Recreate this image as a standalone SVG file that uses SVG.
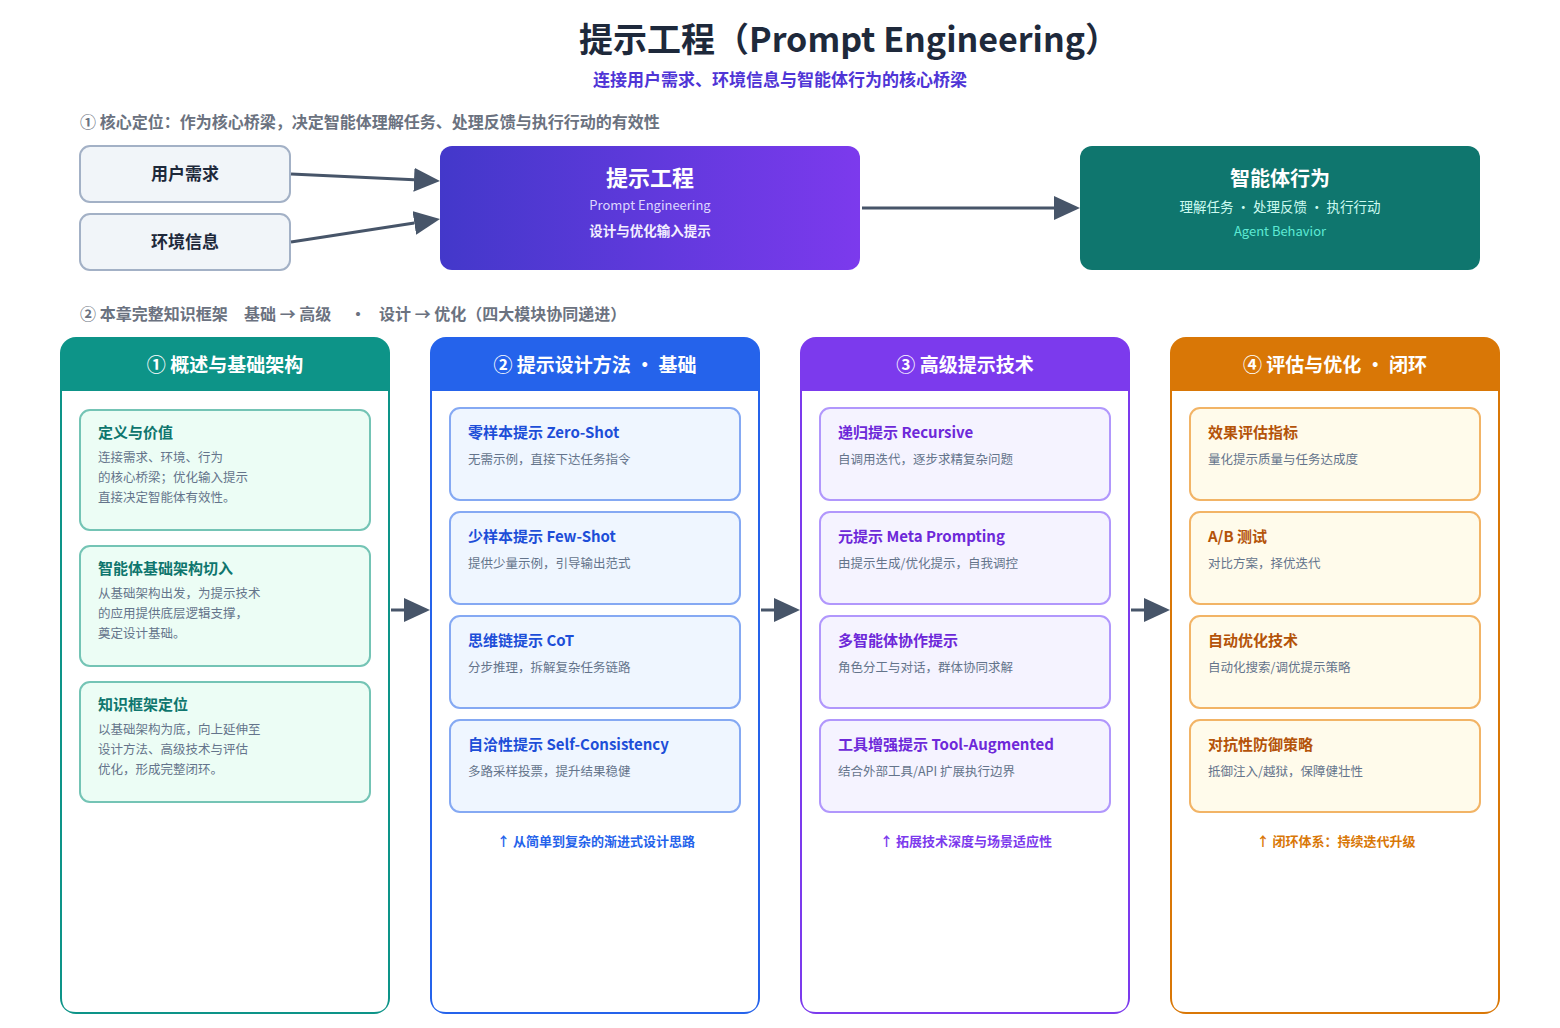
<svg xmlns="http://www.w3.org/2000/svg" width="1560" height="1028" viewBox="0 0 1560 1028">
<defs>
  <linearGradient id="gPE" x1="0" y1="0" x2="1" y2="0">
    <stop offset="0" stop-color="#4338ca"/>
    <stop offset="1" stop-color="#7c3aed"/>
  </linearGradient>
  <marker id="ah" viewBox="0 0 26 24" refX="0" refY="12" markerWidth="26" markerHeight="24" markerUnits="userSpaceOnUse" orient="auto">
    <path d="M0,0 L26,12 L0,24 Z" fill="#475569"/>
  </marker>
  <style>
    text { font-family: "Noto Sans CJK SC", "Noto Sans", sans-serif; }
    .title { font-size: 34px; font-weight: 700; fill: #1e293b; }
    .sub { font-size: 17px; font-weight: 700; fill: #4f35d6; }
    .sec { font-size: 16px; font-weight: 700; fill: #6b7280; }
    .inbox { fill: #f1f5f9; stroke: #a3b1c6; stroke-width: 2; }
    .inlbl { font-size: 17px; font-weight: 700; fill: #1e293b; text-anchor: middle; }
    .wh { fill: #ffffff; text-anchor: middle; }
    .conn { stroke: #475569; stroke-width: 3; fill: none; }
    .colhead { font-size: 19px; font-weight: 700; fill: #ffffff; text-anchor: middle; }
    .ct { font-size: 15px; font-weight: 700; }
    .cb { font-size: 12.5px; fill: #64748b; }
    .foot { font-size: 13px; font-weight: 700; text-anchor: middle; }
    .c1 rect.card { fill: #ecfdf5; stroke: #74c4b5; stroke-width: 2; }
    .c2 rect.card { fill: #eff6ff; stroke: #85a9f3; stroke-width: 2; }
    .c3 rect.card { fill: #f5f3ff; stroke: #b197fc; stroke-width: 2; }
    .c4 rect.card { fill: #fffbeb; stroke: #f2b466; stroke-width: 2; }
    .c1 .ct { fill: #0f766e; }
    .c2 .ct { fill: #1d4ed8; }
    .c3 .ct { fill: #6d28d9; }
    .c4 .ct { fill: #b45309; }
  </style>
</defs>
<rect width="1560" height="1028" fill="#ffffff"/>

<g id="header">
  <text class="title" x="579" y="52">提示工程（Prompt Engineering）</text>
  <text class="sub" x="780" y="86" text-anchor="middle">连接用户需求、环境信息与智能体行为的核心桥梁</text>
  <text class="sec" x="80" y="128">① 核心定位：作为核心桥梁，决定智能体理解任务、处理反馈与执行行动的有效性</text>
  <text class="sec" x="80" y="320">② 本章完整知识框架</text>
  <text class="sec" x="244" y="320">基础 → 高级</text>
  <text class="sec" x="350" y="320">·</text>
  <text class="sec" x="379" y="320">设计 → 优化（四大模块协同递进）</text>
</g>

<g id="node-user">
  <rect class="inbox" x="80" y="146" width="210" height="56" rx="10"/>
  <text class="inlbl" x="185" y="180">用户需求</text>
</g>
<g id="node-env">
  <rect class="inbox" x="80" y="214" width="210" height="56" rx="10"/>
  <text class="inlbl" x="185" y="248">环境信息</text>
</g>
<g id="node-pe">
  <rect x="440" y="146" width="420" height="124" rx="12" fill="url(#gPE)"/>
  <text class="wh" x="650" y="186" font-size="22" font-weight="700">提示工程</text>
  <text x="650" y="210" font-size="13" fill="#ddd6fe" text-anchor="middle">Prompt Engineering</text>
  <text x="650" y="236" font-size="13.5" font-weight="700" fill="#f3efff" text-anchor="middle">设计与优化输入提示</text>
</g>
<g id="node-agent">
  <rect x="1080" y="146" width="400" height="124" rx="12" fill="#0f766e"/>
  <text class="wh" x="1280" y="186" font-size="20" font-weight="700">智能体行为</text>
  <text x="1280" y="212" font-size="13.5" fill="#ccfbf1" text-anchor="middle">理解任务 · 处理反馈 · 执行行动</text>
  <text x="1280" y="236" font-size="13" fill="#5eead4" text-anchor="middle">Agent Behavior</text>
</g>

<g id="col1" class="c1">
  <rect x="60" y="337" width="330" height="677" rx="16" fill="#0d9488"/>
  <path d="M62,391 H388 V998 Q388,1012 374,1012 H76 Q62,1012 62,998 Z" fill="#ffffff"/>
  <text class="colhead" x="225" y="372">① 概述与基础架构</text>
  <g id="c1-card1">
    <rect class="card" x="80" y="410" width="290" height="120" rx="10"/>
    <text class="ct" x="98" y="438">定义与价值</text>
    <text class="cb" x="98" y="462">连接需求、环境、行为</text>
    <text class="cb" x="98" y="482">的核心桥梁；优化输入提示</text>
    <text class="cb" x="98" y="502">直接决定智能体有效性。</text>
  </g>
  <g id="c1-card2">
    <rect class="card" x="80" y="546" width="290" height="120" rx="10"/>
    <text class="ct" x="98" y="574">智能体基础架构切入</text>
    <text class="cb" x="98" y="598">从基础架构出发，为提示技术</text>
    <text class="cb" x="98" y="618">的应用提供底层逻辑支撑，</text>
    <text class="cb" x="98" y="638">奠定设计基础。</text>
  </g>
  <g id="c1-card3">
    <rect class="card" x="80" y="682" width="290" height="120" rx="10"/>
    <text class="ct" x="98" y="710">知识框架定位</text>
    <text class="cb" x="98" y="734">以基础架构为底，向上延伸至</text>
    <text class="cb" x="98" y="754">设计方法、高级技术与评估</text>
    <text class="cb" x="98" y="774">优化，形成完整闭环。</text>
  </g>
</g>

<g id="col2" class="c2">
  <rect x="430" y="337" width="330" height="677" rx="16" fill="#2563eb"/>
  <path d="M432,391 H758 V998 Q758,1012 744,1012 H446 Q432,1012 432,998 Z" fill="#ffffff"/>
  <text class="colhead" x="595" y="372">② 提示设计方法 · 基础</text>
  <g id="c2-card1">
    <rect class="card" x="450" y="408" width="290" height="92" rx="10"/>
    <text class="ct" x="468" y="438">零样本提示 Zero-Shot</text>
    <text class="cb" x="468" y="464">无需示例，直接下达任务指令</text>
  </g>
  <g id="c2-card2">
    <rect class="card" x="450" y="512" width="290" height="92" rx="10"/>
    <text class="ct" x="468" y="542">少样本提示 Few-Shot</text>
    <text class="cb" x="468" y="568">提供少量示例，引导输出范式</text>
  </g>
  <g id="c2-card3">
    <rect class="card" x="450" y="616" width="290" height="92" rx="10"/>
    <text class="ct" x="468" y="646">思维链提示 CoT</text>
    <text class="cb" x="468" y="672">分步推理，拆解复杂任务链路</text>
  </g>
  <g id="c2-card4">
    <rect class="card" x="450" y="720" width="290" height="92" rx="10"/>
    <text class="ct" x="468" y="750">自洽性提示 Self-Consistency</text>
    <text class="cb" x="468" y="776">多路采样投票，提升结果稳健</text>
  </g>
  <text class="foot" x="596" y="846" fill="#2563eb">↑ 从简单到复杂的渐进式设计思路</text>
</g>

<g id="col3" class="c3">
  <rect x="800" y="337" width="330" height="677" rx="16" fill="#7c3aed"/>
  <path d="M802,391 H1128 V998 Q1128,1012 1114,1012 H816 Q802,1012 802,998 Z" fill="#ffffff"/>
  <text class="colhead" x="965" y="372">③ 高级提示技术</text>
  <g id="c3-card1">
    <rect class="card" x="820" y="408" width="290" height="92" rx="10"/>
    <text class="ct" x="838" y="438">递归提示 Recursive</text>
    <text class="cb" x="838" y="464">自调用迭代，逐步求精复杂问题</text>
  </g>
  <g id="c3-card2">
    <rect class="card" x="820" y="512" width="290" height="92" rx="10"/>
    <text class="ct" x="838" y="542">元提示 Meta Prompting</text>
    <text class="cb" x="838" y="568">由提示生成/优化提示，自我调控</text>
  </g>
  <g id="c3-card3">
    <rect class="card" x="820" y="616" width="290" height="92" rx="10"/>
    <text class="ct" x="838" y="646">多智能体协作提示</text>
    <text class="cb" x="838" y="672">角色分工与对话，群体协同求解</text>
  </g>
  <g id="c3-card4">
    <rect class="card" x="820" y="720" width="290" height="92" rx="10"/>
    <text class="ct" x="838" y="750">工具增强提示 Tool-Augmented</text>
    <text class="cb" x="838" y="776">结合外部工具/API 扩展执行边界</text>
  </g>
  <text class="foot" x="966" y="846" fill="#7c3aed">↑ 拓展技术深度与场景适应性</text>
</g>

<g id="col4" class="c4">
  <rect x="1170" y="337" width="330" height="677" rx="16" fill="#d97706"/>
  <path d="M1172,391 H1498 V998 Q1498,1012 1484,1012 H1186 Q1172,1012 1172,998 Z" fill="#ffffff"/>
  <text class="colhead" x="1335" y="372">④ 评估与优化 · 闭环</text>
  <g id="c4-card1">
    <rect class="card" x="1190" y="408" width="290" height="92" rx="10"/>
    <text class="ct" x="1208" y="438">效果评估指标</text>
    <text class="cb" x="1208" y="464">量化提示质量与任务达成度</text>
  </g>
  <g id="c4-card2">
    <rect class="card" x="1190" y="512" width="290" height="92" rx="10"/>
    <text class="ct" x="1208" y="542">A/B 测试</text>
    <text class="cb" x="1208" y="568">对比方案，择优迭代</text>
  </g>
  <g id="c4-card3">
    <rect class="card" x="1190" y="616" width="290" height="92" rx="10"/>
    <text class="ct" x="1208" y="646">自动优化技术</text>
    <text class="cb" x="1208" y="672">自动化搜索/调优提示策略</text>
  </g>
  <g id="c4-card4">
    <rect class="card" x="1190" y="720" width="290" height="92" rx="10"/>
    <text class="ct" x="1208" y="750">对抗性防御策略</text>
    <text class="cb" x="1208" y="776">抵御注入/越狱，保障健壮性</text>
  </g>
  <text class="foot" x="1336" y="846" fill="#d97706">↑ 闭环体系：持续迭代升级</text>
</g>

<g id="connectors">
  <line class="conn" x1="291" y1="174" x2="414" y2="179.8" marker-end="url(#ah)"/>
  <line class="conn" x1="291" y1="242" x2="414.3" y2="222.9" marker-end="url(#ah)"/>
  <line class="conn" x1="862" y1="208" x2="1054" y2="208" marker-end="url(#ah)"/>
  <line class="conn" x1="391" y1="610" x2="404" y2="610" marker-end="url(#ah)"/>
  <line class="conn" x1="761" y1="610" x2="774" y2="610" marker-end="url(#ah)"/>
  <line class="conn" x1="1131" y1="610" x2="1144" y2="610" marker-end="url(#ah)"/>
</g>
</svg>
